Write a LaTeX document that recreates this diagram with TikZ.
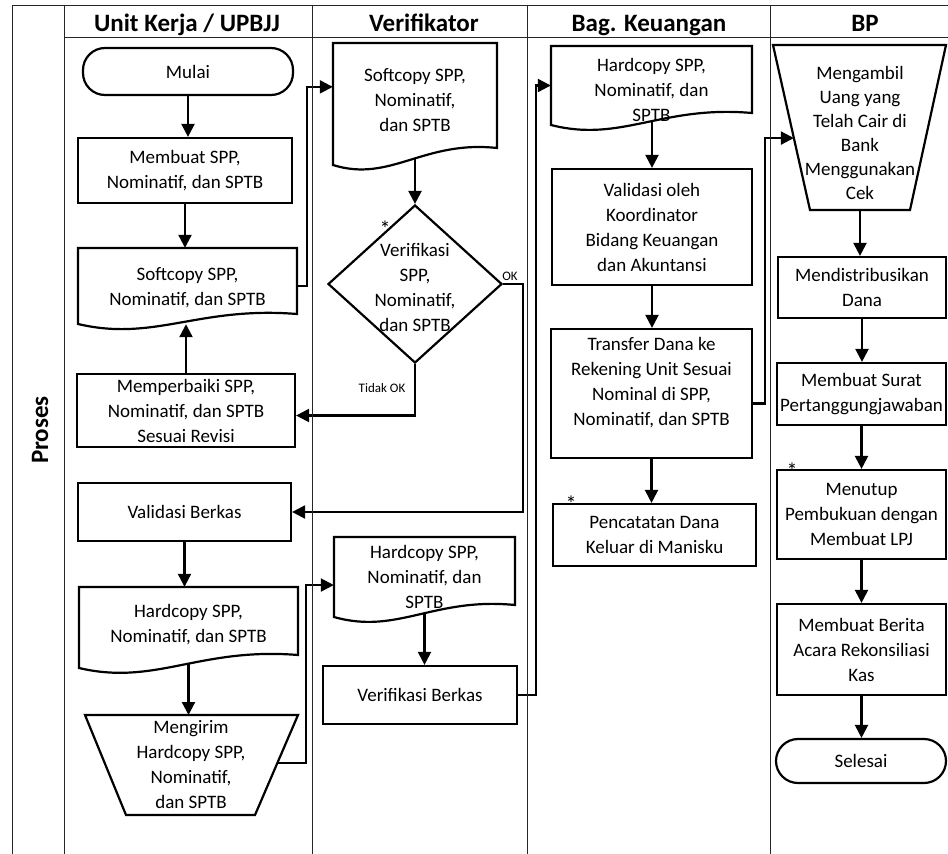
\documentclass[tikz,border=0pt]{standalone}
\usepackage{fontspec}
\setmainfont{Carlito}
\usetikzlibrary{arrows.meta,calc,shapes.geometric}
\pgfdeclarelayer{bg}
\pgfsetlayers{bg,main}
\newcommand\bodyfont{\fontsize{19}{25}\selectfont}
\newcommand\headfont{\fontsize{25}{30}\selectfont\bfseries}
\newcommand\smallfont{\fontsize{13}{15}\selectfont}
\newcommand\starfont{\fontsize{22}{22}\selectfont}
\tikzset{
  lane/.style={line width=0.9pt, draw=black!85},
  shapeline/.style={draw=black, line width=2.2pt, fill=white},
  box/.style={shapeline, rectangle, align=center, inner sep=0pt, font=\bodyfont},
  txt/.style={align=center, inner sep=0pt, font=\bodyfont},
  term/.style={box, rounded corners=22pt},
  arr/.style={line width=2.2pt, -{Triangle[length=13pt,width=13pt]}},
  head/.style={font=\headfont, inner sep=0pt, anchor=base},
  small/.style={font=\smallfont, inner sep=0pt},
  star/.style={font=\starfont, inner sep=0pt, anchor=base},
}
% name, L, T, R, yL (left bottom), yR (right bottom), text y, text
\newcommand\docshape[8]{%
  \path[shapeline] (#2,#3) -- (#4,#3) -- (#4,#6)
     .. controls ({#2+0.55*(#4-#2)},{#6-8}) and ({#2+0.35*(#4-#2)},{#5+18}) .. (#2,#5) -- cycle;
  \node[txt, minimum width={(#4-#2)*1pt}, minimum height={(#5-#3)*1pt}] (#1) at ({(#2+#4)/2},{(#3+#5)/2}) {};
  \node[txt] (#1-t) at ({(#2+#4)/2},#7) {#8};
}
\begin{document}
\begin{tikzpicture}[x=1pt,y=-1pt]
\useasboundingbox (0,0) rectangle (948,854);
% swimlanes
\draw[lane] (12,5) -- (948,5);
\draw[lane] (64,37) -- (948,37);
\foreach \xx in {12,64,312,527,770} \draw[lane] (\xx,5) -- (\xx,854);
\node[head] (h1) at (187,31) {Unit Kerja / UPBJJ};
\node[head] (h2) at (424,31) {Verifikator};
\node[head] (h3) at (649,31) {Bag. Keuangan};
\node[head] (h4) at (865,31) {BP};
\node[font=\headfont, inner sep=0pt, rotate=90] (h0) at (40,430) {Proses};

% Unit Kerja / UPBJJ
\node[term, minimum width=210pt, minimum height=47pt] (mulai) at (188,71.5) {Mulai};
\node[box, minimum width=214pt, minimum height=65pt] (membuat) at (185,170.5) {Membuat SPP,\\Nominatif, dan SPTB};
\docshape{softU}{78}{248}{297}{324}{314}{288}{Softcopy SPP,\\Nominatif, dan SPTB}
\node[box, minimum width=218pt, minimum height=73pt] (perbaiki) at (186,410.5) {Memperbaiki SPP,\\Nominatif, dan SPTB\\Sesuai Revisi};
\node[box, minimum width=213pt, minimum height=58pt] (valid) at (184.5,512) {Validasi Berkas};
\docshape{hardU}{79}{587}{298}{668}{655}{625}{Hardcopy SPP,\\Nominatif, dan SPTB}
\coordinate (k-tl) at (85,715);
\coordinate (k-tr) at (298,715);
\coordinate (k-br) at (255,815);
\coordinate (k-bl) at (126,815);
\path[shapeline] (k-tl) -- (k-tr) -- (k-br) -- (k-bl) -- cycle;
\node[txt] (kirim) at (191,765) {Mengirim\\Hardcopy SPP,\\Nominatif,\\dan SPTB};
\coordinate (kout) at ($(k-tr)!0.48!(k-br)$);

% Verifikator
\docshape{softV}{333}{43}{497}{165}{148}{100}{Softcopy SPP,\\Nominatif,\\dan SPTB}
\node[shapeline, diamond, minimum width=174pt, minimum height=158pt, inner sep=0pt] (dia) at (415,284) {};
\node[txt] (dia-t) at (415,287) {Verifikasi\\SPP,\\Nominatif,\\dan SPTB};
\docshape{hardV}{334}{537}{515}{617}{605}{577}{Hardcopy SPP,\\Nominatif, dan\\SPTB}
\node[box, minimum width=194pt, minimum height=58pt] (verb) at (420,695) {Verifikasi Berkas};

% Bag. Keuangan
\docshape{hardB}{551}{46}{752}{125}{113}{90}{Hardcopy SPP,\\Nominatif, dan\\SPTB}
\node[box, minimum width=200pt, minimum height=116pt] (valk) at (652,227) {Validasi oleh\\Koordinator\\Bidang Keuangan\\dan Akuntansi};
\node[box, minimum width=201pt, minimum height=129pt] (transfer) at (651.5,393.5) {};
\node[txt] (transfer-t) at (651.5,383) {Transfer Dana ke\\Rekening Unit Sesuai\\Nominal di SPP,\\Nominatif, dan SPTB};
\node[box, minimum width=203pt, minimum height=62pt] (catat) at (654.5,535) {Pencatatan Dana\\Keluar di Manisku};

% BP
\coordinate (bp-tl) at (773,45);
\coordinate (bp-tr) at (946,45);
\coordinate (bp-br) at (910,210);
\coordinate (bp-bl) at (810,210);
\path[shapeline] (bp-tl) -- (bp-tr) -- (bp-br) -- (bp-bl) -- cycle;
\node[txt, font=\fontsize{19}{24}\selectfont] (bp) at (860,133) {Mengambil\\Uang yang\\Telah Cair di\\Bank\\Menggunakan\\Cek};
\coordinate (bpin) at ($(bp-tl)!0.564!(bp-bl)$);
\node[box, minimum width=168pt, minimum height=61pt] (dist) at (862,287.5) {Mendistribusikan\\Dana};
\node[box, minimum width=169pt, minimum height=62pt] (surat) at (861.5,394) {Membuat Surat\\Pertanggungjawaban};
\node[box, minimum width=169pt, minimum height=89pt] (tutup) at (861.5,514.5) {Menutup\\Pembukuan dengan\\Membuat LPJ};
\node[box, minimum width=169pt, minimum height=91pt] (berita) at (861.5,649.5) {Membuat Berita\\Acara Rekonsiliasi\\Kas};
\node[term, minimum width=170pt, minimum height=44pt] (selesai) at (861,761) {Selesai};

% labels
\node[small] (lblok) at (510,276) {OK};
\node[small] (lbltdk) at (382,388) {Tidak OK};
\node[star] (st1) at (385,236) {*};
\node[star] (st2) at (571,511) {*};
\node[star] (st3) at (792,478) {*};

% connectors
\begin{pgfonlayer}{bg}
\draw[arr] (mulai.south) -- (mulai.south |- membuat.north);
\draw[arr] (membuat.south) -- (membuat.south |- softU.north);
\draw[arr] (softU.east) -- ++(10,0) |- ($(softV.north west)!0.36!(softV.south west)$);
\draw[arr] (softV.center) -- (softV.center |- dia.north);
\draw[arr] (dia.south) |- ([yshift=-5pt]perbaiki.east);
\draw[arr] (perbaiki.north) -- (perbaiki.north |- softU.south);
\draw[arr] (dia.east) -- ++(20,0) |- (valid.east);
\draw[arr] (valid.south) -- (valid.south |- hardU.north);
\draw[arr] (hardU.center) -- (hardU.center |- k-tl);
\draw[arr] (kout) -- ++(29,0) |- ($(hardV.north west)!0.6!(hardV.south west)$);
\draw[arr] (hardV.center) -- (hardV.center |- verb.north);
\draw[arr] (verb.east) -- ++(18,0) |- (hardB.west);
\draw[arr] (hardB.center -| valk.north) -- (valk.north);
\draw[arr] (valk.south) -- (valk.south |- transfer.north);
\draw[arr] ([yshift=-10pt]transfer.east) -- ++(12,0) |- (bpin);
\draw[arr] (transfer.south) -- (transfer.south |- catat.north);
\draw[arr] (bp.center) -- (bp.center |- dist.north);
\draw[arr] (dist.south) -- (dist.south |- surat.north);
\draw[arr] (surat.south) -- (surat.south |- tutup.north);
\draw[arr] (tutup.south) -- (tutup.south |- berita.north);
\draw[arr] (berita.south) -- (berita.south |- selesai.north);
\end{pgfonlayer}
\end{tikzpicture}
\end{document}
